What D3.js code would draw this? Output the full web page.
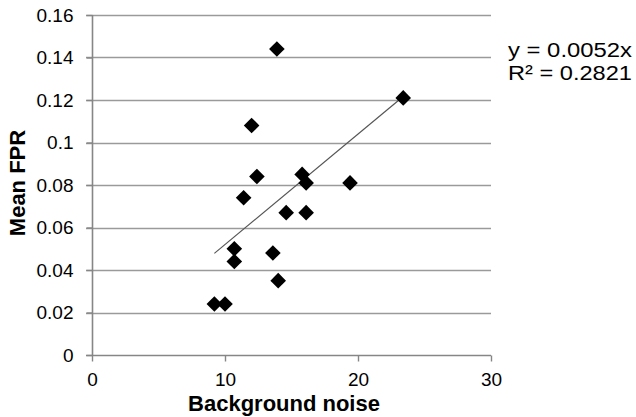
<!DOCTYPE html>
<html>
<head>
<meta charset="utf-8">
<script src="https://cdn.jsdelivr.net/npm/d3@7"></script>
<style>
  html, body { margin: 0; padding: 0; background: #fff; }
  svg { display: block; }
  text { font-family: "Liberation Sans", Arial, sans-serif; fill: #000; }
</style>
</head>
<body>
<svg id="chart" width="636" height="417"></svg>
<script>
// ---- data ----
const noise = [13.9, 12.0, 12.4, 11.4, 15.8, 16.1, 14.6, 16.1, 23.4, 19.4, 10.7, 10.7, 13.6, 14.0, 9.2, 10.0];
const meanFPR = [0.144, 0.108, 0.084, 0.074, 0.085, 0.081, 0.067, 0.067, 0.121, 0.081, 0.050, 0.044, 0.048, 0.035, 0.024, 0.024];
const xTicks = [0, 10, 20, 30];
const yTicks = [0, 0.02, 0.04, 0.06, 0.08, 0.1, 0.12, 0.14, 0.16];
const slope = 0.0052;
const eqLines = ["y = 0.0052x", "R² = 0.2821"];
const xTitle = "Background noise";
const yTitle = "Mean FPR";

(function () {
const svg = d3.select("#chart");
const mLeft = 92, mRight = 491, mTop = 15, mBottom = 355;

const x = d3.scaleLinear().domain([0, 30]).range([mLeft, mRight]);
const y = d3.scaleLinear().domain([0, 0.16]).range([mBottom, mTop]);

// gridlines
svg.append("g")
  .selectAll("line")
  .data(yTicks.filter(d => d > 0))
  .join("line")
  .attr("x1", mLeft - 6).attr("x2", mRight)
  .attr("y1", d => Math.round(y(d)) + 0.5).attr("y2", d => Math.round(y(d)) + 0.5)
  .attr("stroke", "#9a9a9a").attr("stroke-width", 1.4);

// y axis
const yAxis = svg.append("g")
  .attr("transform", `translate(${mLeft + 0.5},0)`)
  .call(d3.axisLeft(y).tickValues(yTicks).tickFormat(d => d === 0 ? "0" : String(+d.toFixed(2))).tickSize(6).tickPadding(13));
yAxis.select(".domain").attr("stroke", "#868686").attr("stroke-width", 1.6).attr("d", `M0,${mTop}V${mBottom}`);
yAxis.selectAll(".tick line").attr("stroke", "#868686").attr("stroke-width", 1.4);
yAxis.selectAll(".tick text").attr("font-size", 19).attr("font-family", "Liberation Sans, Arial, sans-serif").attr("fill", "#000");

// x axis
const xAxis = svg.append("g")
  .attr("transform", `translate(0,${mBottom + 0.5})`)
  .call(d3.axisBottom(x).tickValues(xTicks).tickFormat(d3.format("d")).tickSize(6).tickPadding(11));
xAxis.select(".domain").attr("stroke", "#868686").attr("stroke-width", 1.6).attr("d", `M${mLeft - 6},0H${mRight}`);
xAxis.selectAll(".tick line").attr("stroke", "#868686").attr("stroke-width", 1.4);
xAxis.selectAll(".tick text").attr("font-size", 19).attr("font-family", "Liberation Sans, Arial, sans-serif").attr("fill", "#000");

// trendline (through origin)
const xMin = d3.min(noise), xMax = d3.max(noise);
svg.append("line")
  .attr("x1", x(xMin)).attr("y1", y(slope * xMin))
  .attr("x2", x(xMax)).attr("y2", y(slope * xMax))
  .attr("stroke", "#555").attr("stroke-width", 1.2);

// diamonds
const r = 7.8;
svg.append("g")
  .selectAll("path")
  .data(noise.map((d, i) => [d, meanFPR[i]]))
  .join("path")
  .attr("d", d => {
    const cx = x(d[0]), cy = y(d[1]);
    return `M${cx},${cy - r}L${cx + r},${cy}L${cx},${cy + r}L${cx - r},${cy}Z`;
  })
  .attr("fill", "#000");

// equation
svg.append("g")
  .selectAll("text")
  .data(eqLines)
  .join("text")
  .attr("x", 508)
  .attr("y", (d, i) => 57 + i * 23)
  .attr("font-size", 20)
  .attr("textLength", 124)
  .attr("lengthAdjust", "spacingAndGlyphs")
  .text(d => d);

// axis titles
svg.append("text")
  .attr("x", 284).attr("y", 411)
  .attr("text-anchor", "middle")
  .attr("font-size", 22).attr("font-weight", "bold")
  .text(xTitle);

svg.append("text")
  .attr("transform", "translate(25,183) rotate(-90)")
  .attr("text-anchor", "middle")
  .attr("font-size", 22).attr("font-weight", "bold")
  .text(yTitle);
})();
</script>
</body>
</html>
